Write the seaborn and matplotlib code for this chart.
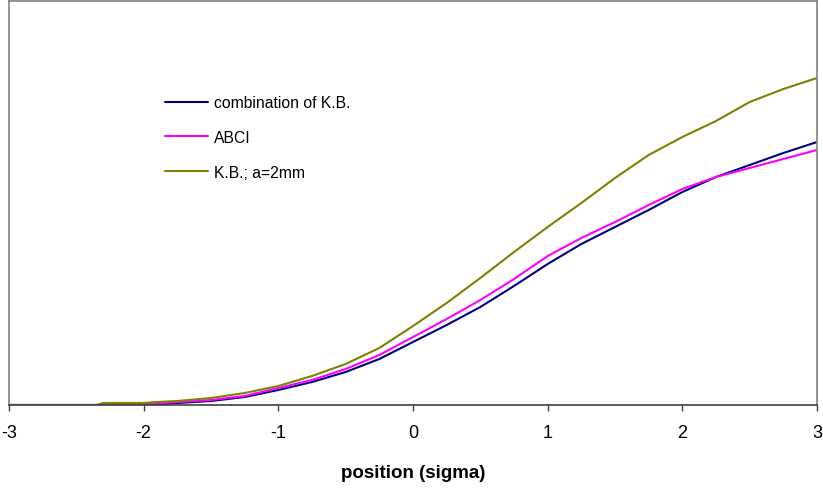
import matplotlib
matplotlib.use("Agg")
import matplotlib.pyplot as plt
import seaborn as sns
import pandas as pd

# ---- data (arbitrary vertical units) ----
x_vals = [-3.0, -2.35, -2.3, -2.0, -1.9, -1.75, -1.5, -1.25, -1.0, -0.75, -0.5, -0.25,
          0.0, 0.25, 0.5, 0.75, 1.0, 1.25, 1.5, 1.75, 2.0, 2.25, 2.5, 2.75, 3.0]

kb_combination = [0, 0, 0, 0, 0.5, 2, 4, 8, 15, 23, 33, 46,
                  63, 80, 98, 119, 141, 161, 178, 195, 213, 228, 240, 252, 263]

abci = [0, 0, 0, 0.5, 1.5, 3, 5, 9, 17, 25, 36, 50,
        68, 86, 105, 126, 149, 167, 183, 200, 216, 228, 237, 246, 255]

kb_2mm = [0, 0, 2, 2, 3, 4, 7, 12, 19, 29, 41, 57,
          79, 102, 127, 153, 178, 202, 227, 250, 268, 284, 303, 316, 327]

series_names = ["combination of K.B.", "ABCI", "K.B.; a=2mm"]
series_colors = ["#000080", "#FF00FF", "#808000"]
x_ticks = [-3, -2, -1, 0, 1, 2, 3]
x_label = "position (sigma)"

# ---- build long-form table ----
rows = []
for name, ys in zip(series_names, [kb_combination, abci, kb_2mm]):
    for xv, yv in zip(x_vals, ys):
        rows.append({"x": xv, "y": yv, "series": name})
df = pd.DataFrame(rows)

sns.set_theme(style="white")
plt.rcParams["font.family"] = ["Liberation Sans", "DejaVu Sans"]
plt.rcParams["text.color"] = "black"
plt.rcParams["xtick.color"] = "black"
plt.rcParams["axes.labelcolor"] = "black"

fig = plt.figure(figsize=(8.23, 4.89), dpi=100)
ax = fig.add_axes([9 / 823, 1 - 406 / 489, (817 - 9) / 823, (406 - 2) / 489])

sns.lineplot(data=df, x="x", y="y", hue="series", hue_order=series_names,
             palette=dict(zip(series_names, series_colors)), linewidth=1.5,
             ax=ax, sort=False, estimator=None)

ax.set_xlim(-3, 3)
ax.set_ylim(0, 404)
ax.set_xticks(x_ticks)
ax.set_xticklabels([str(t) for t in x_ticks], fontsize=13)
ax.set_yticks([])
ax.set_ylabel("")
ax.set_xlabel(x_label, fontsize=13.5, fontweight="bold", labelpad=16,
              color="black")
ax.tick_params(axis="x", direction="out", length=4, width=1, color="#404040",
               labelcolor="black", pad=10, bottom=True)

for side in ["left", "top", "right"]:
    ax.spines[side].set_visible(True)
    ax.spines[side].set_color("#808080")
    ax.spines[side].set_linewidth(1.2)
ax.spines["bottom"].set_color("#404040")
ax.spines["bottom"].set_linewidth(1.2)

leg = ax.legend(loc="upper left", bbox_to_anchor=(150 / 808, 1 - 88 / 404),
                frameon=False, fontsize=11.3, handlelength=2.7,
                handletextpad=0.4, labelspacing=1.25, borderaxespad=0)
for line in leg.get_lines():
    line.set_linewidth(1.5)
for t in leg.get_texts():
    t.set_color("black")

fig.savefig("out.png", dpi=100)
